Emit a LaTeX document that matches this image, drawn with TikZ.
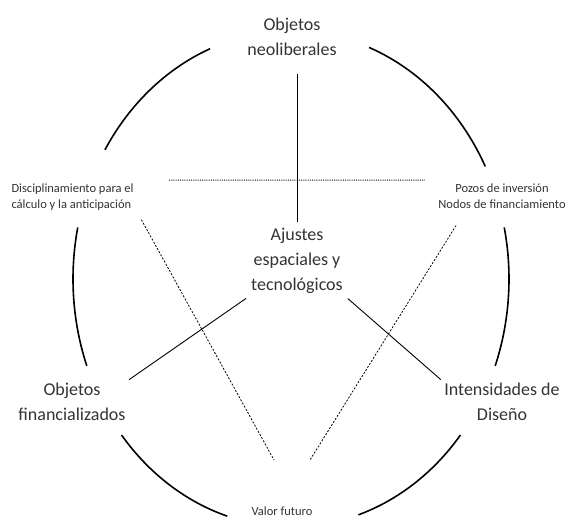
\documentclass[tikz,border=0pt]{standalone}
\usepackage{fontspec}
\setmainfont{Carlito}
\usepackage{tikz}
\usetikzlibrary{positioning}

\begin{document}
\begin{tikzpicture}[x=1pt,y=1pt,
  big/.style={align=center,font=\fontsize{18}{25}\selectfont,text=black!80},
  small/.style={align=center,font=\fontsize{12.5}{16}\selectfont,text=black!80},
  ring/.style={line width=1.6pt},
  link/.style={line width=0.9pt},
  dashlink/.style={line width=0.8pt,dash pattern=on 2pt off 1.6pt},
  dotlink/.style={line width=0.9pt,dash pattern=on 1pt off 1.2pt}]
\useasboundingbox (0,0) rectangle (572,519);
\coordinate (c) at (291,240);
\node (neo) [big] at (292,482) {Objetos\\neoliberales};
\node (ajustes) [big] at (297,258) {Ajustes\\espaciales y\\tecnológicos};
\node (disc) [small,align=left,anchor=west] at (8,322) {Disciplinamiento para el\\cálculo y la anticipación};
\node (pozos) [small] at (502,323) {Pozos de inversión\\Nodos de financiamiento};
\node (fin) [big] at (72,117) {Objetos\\financializados};
\node (int) [big] at (502,117) {Intensidades de\\Diseño};
\node (valor) [small] at (282,8) {Valor futuro};
\coordinate (vl) at (274,59);
\coordinate (vr) at (310,59);
% circulo
\foreach \s/\e in {111.8/148.6, 27/69, 168/200.5, -20.5/12, 219/253, 288/321}
  \draw[ring] (c) ++(\s:218pt and 248pt) arc[start angle=\s, end angle=\e, x radius=218pt, y radius=248pt];
% conexiones
\draw[link,shorten <=15pt,shorten >=3pt] (ajustes.north |- neo.south) -- (ajustes.north);
\draw[link,shorten <=2pt] (ajustes.south west) -- (fin.north east);
\draw[link,shorten <=2pt] (ajustes.south east) -- (int.north west);
\draw[dotlink,shorten <=32pt,shorten >=10pt] (disc.north east) -- (pozos.north west);
\draw[dashlink,shorten <=9pt] (disc.-13) -- (vl);
\draw[dashlink,shorten <=16pt] (pozos.203) -- (vr);
\end{tikzpicture}
\end{document}
